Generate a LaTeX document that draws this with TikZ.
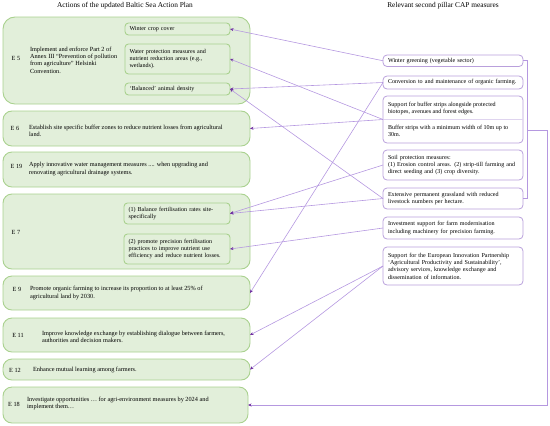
\documentclass[tikz,border=0pt]{standalone}
\usepackage{fontspec}
\setmainfont{Liberation Serif}
\usetikzlibrary{arrows.meta}
\definecolor{gfill}{HTML}{E2EFDA}
\definecolor{gdraw}{HTML}{A9D18E}
\definecolor{pdraw}{HTML}{B9A0DC}
\definecolor{pline}{HTML}{B598E0}
\definecolor{phead}{HTML}{7030A0}
\begin{document}
\begin{tikzpicture}[x=1bp,y=-1bp,
  every node/.style={inner sep=0pt, outer sep=0pt, font=\fontsize{6.1}{7.3}\selectfont},
  lfont/.style={font=\fontsize{6.3}{7.3}\selectfont},
  gbox/.style={draw=gdraw, fill=gfill, line width=0.9pt, rounded corners=9pt, anchor=north west, minimum width=247bp},
  ibox/.style={draw=gdraw, fill=gfill, line width=0.9pt, rounded corners=3.5pt, anchor=north west, text width=97bp, inner xsep=4.5bp, align=left},
  pbox/.style={draw=pdraw, fill=white, line width=0.8pt, rounded corners=4pt, anchor=north west, text width=130bp, inner xsep=5bp, align=left},
  lab/.style={anchor=center, lfont},
  txt/.style={anchor=west, align=left, lfont},
  rtxt/.style={anchor=west, align=left},
  ttl/.style={font=\fontsize{7.4}{9}\selectfont},
  conn/.style={draw=pline, line width=0.6pt, -{Stealth[length=3.5pt,width=3pt,color=phead]}},
  plain/.style={draw=pline, line width=0.6pt}
]
\useasboundingbox (0,0) rectangle (550,425);

% titles
\node[ttl] (t1) at (125,6) {Actions of the updated Baltic Sea Action Plan};
\node[ttl] (t2) at (443,6) {Relevant second pillar CAP measures};

% left boxes
\node[gbox, minimum height=87bp, rounded corners=12pt] (E5) at (3,17) {};
\node[lab] (l5) at (16,58) {E 5};
\node[txt] (x5) at (30,60) {Implement and enforce Part 2 of\\Annex III “Prevention of pollution\\from agriculture” Helsinki\\Convention.};
\node[ibox, minimum height=12bp, text width=96bp] (W) at (125,23) {Winter crop cover};
\node[ibox, minimum height=30bp, text width=96bp] (WP) at (125,44) {Water protection measures and\\nutrient reduction areas (e.g.,\\wetlands).};
\node[ibox, minimum height=12bp, text width=96bp] (B) at (125,83) {‘Balanced’ animal density};

\node[gbox, minimum height=35bp] (E6) at (3,111) {};
\node[lab] (l6) at (15,128) {E 6};
\node[txt] (x6) at (29,130.5) {Establish site specific buffer zones to reduce nutrient losses from agricultural\\land.};

\node[gbox, minimum height=35bp] (E19) at (3,152) {};
\node[lab] (l19) at (16.5,166.5) {E 19};
\node[txt] (x19) at (29,169) {Apply innovative water management measures .... when upgrading and\\renovating agricultural drainage systems.};

\node[gbox, minimum height=75bp] (E7) at (3,194) {};
\node[lab] (l7) at (16,232) {E 7};
\node[ibox, minimum height=21bp] (I1) at (124,203) {(1) Balance fertilisation rates site-\\specifically};
\node[ibox, minimum height=30bp] (I2) at (124,234) {(2) promote precision fertilisation\\practices to improve nutrient use\\efficiency and reduce nutrient losses.};

\node[gbox, minimum height=34bp] (E9) at (3,276) {};
\node[lab] (l9) at (17,289.5) {E 9};
\node[txt] (x9) at (30,293) {Promote organic farming to increase its proportion to at least 25\% of\\agricultural land by 2030.};

\node[gbox, minimum height=34bp] (E11) at (3,318) {};
\node[lab] (l11) at (18,335) {E 11};
\node[txt] (x11) at (42,336.5) {Improve knowledge exchange by establishing dialogue between farmers,\\authorities and decision makers.};

\node[gbox, minimum height=21bp] (E12) at (3,359) {};
\node[lab] (l12) at (15,370) {E 12};
\node[txt] (x12) at (33,370) {Enhance mutual learning among farmers.};

\node[gbox, minimum height=36bp, minimum width=245bp] (E18) at (3,387) {};
\node[lab] (l18) at (14,404) {E 18};
\node[txt] (x18) at (27,403.5) {Investigate opportunities … for agri-environment measures by 2024 and\\implement them…};

% right boxes
\node[pbox, minimum height=11.5bp] (R1) at (383,55) {Winter greening (vegetable sector)};
\node[pbox, minimum height=13bp] (R2) at (383,76) {Conversion to and maintenance of organic farming.};
\node[pbox, minimum height=47bp] (R3) at (383,96) {};
\draw[draw=pdraw!45, line width=0.4pt] (R3.west) -- (R3.east);
\node[rtxt] (R3a) at (388,108.5) {Support for buffer strips alongside protected\\biotopes, avenues and forest edges.};
\node[rtxt] (R3b) at (388,131) {Buffer strips with a minimum width of 10m up to\\30m.};
\node[pbox, minimum height=30bp] (R4) at (383,150) {Soil protection measures:\\(1) Erosion control areas. (2) strip-till farming and\\direct seeding and (3) crop diversity.};
\node[pbox, minimum height=21bp] (R5) at (383,188) {Extensive permanent grassland with reduced\\livestock numbers per hectare.};
\node[pbox, minimum height=22bp] (R6) at (383,217) {Investment support for farm modernisation\\including machinery for precision farming.};
\node[pbox, minimum height=38bp] (R7) at (383,247) {Support for the European Innovation Partnership\\‘Agricultural Productivity and Sustainability’,\\advisory services, knowledge exchange and\\dissemination of information.};

% connectors
\draw[conn] (R1.west) -- (W.east);
\draw[conn] (R2.west) -- (B.east);
\draw[conn] (R2.west) -- (E9.east);
\draw[conn] (R3.west) -- (WP.east);
\draw[conn] (R3.west) -- (E6.east);
\draw[conn] (R5.west) -- (B.east);
\draw[conn] (R4.west) -- (I1.east);
\draw[conn] (R5.west) -- (I1.east);
\draw[conn] (R6.west) -- (I2.east);
\draw[conn] (R7.west) -- (E11.east);
\draw[conn] (R7.west) -- (E12.east);

\coordinate (bk) at (527,130);
\coordinate (bk2) at (547,130);
\draw[plain] (R1.east) -| (bk) |- (R5.east);
\draw[conn] (bk) -- (bk2) |- (E18.east);
\end{tikzpicture}
\end{document}
